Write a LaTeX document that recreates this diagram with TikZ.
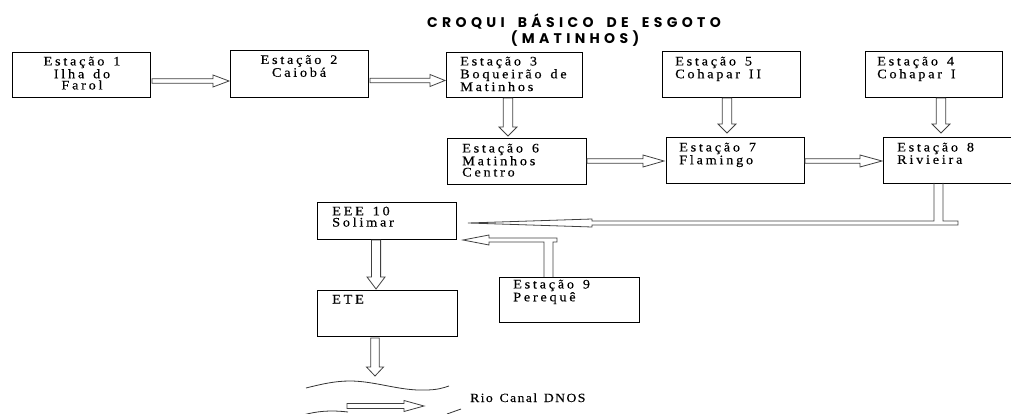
\documentclass[tikz,border=0pt]{standalone}
\usepackage{fontspec}
\setmainfont{Liberation Serif}
\newfontfamily\boxfont[LetterSpace=21, FakeStretch=1.1, WordSpace=1.4, FakeBold=0.4]{Liberation Serif}
\newfontfamily\rivfont[LetterSpace=11, FakeStretch=1.1, WordSpace=1.4, FakeBold=0.3]{Liberation Serif}
\newfontfamily\titlefont[LetterSpace=31, WordSpace=1.8]{Poppins}
\usetikzlibrary{calc}
\tikzset{
  box/.style={draw=black, line width=0.9pt, outer sep=0pt, inner sep=0pt},
  lbl/.style={font=\boxfont\fontsize{13}{11.2}\selectfont, align=left, inner sep=0pt, anchor=north west},
  ttl/.style={font=\titlefont\bfseries\fontsize{14}{14}\selectfont, inner sep=0pt, anchor=base},
  arr/.style={draw=black!75, line width=0.8pt, line join=miter},
  rio/.style={draw=black!80, line width=0.8pt},
}
% rightwards hollow arrow: start, end, head length, head half width, shaft half width
\newcommand{\harr}[5]{%
  \draw[arr] let \p1=#1, \p2=#2 in
    (\x1,\y1+#5pt) -- (\x2-#3pt,\y1+#5pt) -- (\x2-#3pt,\y1+#4pt) -- (\x2,\y1)
    -- (\x2-#3pt,\y1-#4pt) -- (\x2-#3pt,\y1-#5pt) -- (\x1,\y1-#5pt) -- cycle;}
% downwards hollow arrow: start, end (tip level), head length, head half width, shaft half width
\newcommand{\varr}[5]{%
  \draw[arr] let \p1=#1, \p2=#2 in
    (\x1-#5pt,\y1) -- (\x1-#5pt,\y2+#3pt) -- (\x1-#4pt,\y2+#3pt) -- (\x1,\y2)
    -- (\x1+#4pt,\y2+#3pt) -- (\x1+#5pt,\y2+#3pt) -- (\x1+#5pt,\y1) -- cycle;}
\begin{document}
\begin{tikzpicture}[x=1pt, y=-1pt]
\useasboundingbox (0,0) rectangle (1011,414);
\clip (0,0) rectangle (1011,414);

% title
\node[ttl] (t1) at (574,27.5) {CROQUI BÁSICO DE ESGOTO};
\node[ttl] (t2) at (575,43.5) {(MATINHOS)};

% boxes
\node[box, minimum width=138pt, minimum height=45pt] (b1) at (81,74.5) {};
\node[box, minimum width=138pt, minimum height=47pt] (b2) at (299,73.5) {};
\node[box, minimum width=136pt, minimum height=45pt] (b3) at (514,74.5) {};
\node[box, minimum width=138pt, minimum height=46pt] (b5) at (731,74) {};
\node[box, minimum width=137pt, minimum height=46pt] (b4) at (933.5,74) {};
\node[box, minimum width=139pt, minimum height=46pt] (b6) at (516.5,161) {};
\node[box, minimum width=138pt, minimum height=46pt] (b7) at (735,160) {};
\node[box, minimum width=132pt, minimum height=46pt] (b8) at (949,160) {};
\node[box, minimum width=139pt, minimum height=37pt] (b10) at (386.5,220.5) {};
\node[box, minimum width=140pt, minimum height=46pt] (ete) at (387,313) {};
\node[box, minimum width=140pt, minimum height=45pt] (b9) at (569,299.5) {};

% labels
\node[lbl, align=center, anchor=north] (l1) at (82,56.5) {Estação 1\\Ilha do\\Farol};
\node[lbl, align=center, anchor=north] (l2) at (299,55) {Estação 2\\Caiobá};
\node[lbl] (l3) at (460,56.5) {Estação 3\\Boqueirão de\\Matinhos};
\node[lbl] (l5) at (675,56.5) {Estação 5\\Cohapar II};
\node[lbl] (l4) at (877,56.5) {Estação 4\\Cohapar I};
\node[lbl] (l6) at (462,143.5) {Estação 6\\Matinhos\\Centro};
\node[lbl] (l7) at (679,142.5) {Estação 7\\Flamingo};
\node[lbl] (l8) at (897,142.5) {Estação 8\\Rivieira};
\node[lbl] (l10) at (332,206.5) {EEE 10\\Solimar};
\node[lbl] (lete) at (332,294.8) {ETE};
\node[lbl] (l9) at (513,279.5) {Estação 9\\Perequê};

% horizontal arrows
\harr{($(b1.east)+(2,6.5)$)}{($(b2.west)+(-1,0)$)}{16}{6}{2.2}
\harr{($(b2.east)+(2,7)$)}{($(b3.west)+(-1,0)$)}{15}{6}{2.2}
\harr{($(b6.east)+(1,0)$)}{($(b7.west)+(-2,0)$)}{21}{6}{2.2}
\harr{($(b7.east)+(1,1)$)}{($(b8.west)+(-1,0)$)}{22}{6}{2.2}

% vertical arrows
\varr{($(b3.south)+(-6,1)$)}{($(b6.north)+(0,-2)$)}{9}{9}{4.8}
\varr{($(b5.south)+(-4,1)$)}{($(b7.north)+(0,-4)$)}{9}{9}{4.8}
\varr{($(b4.south)+(7.5,1)$)}{($(b8.north)+(0,-4)$)}{9}{9}{4.8}
\varr{($(b10.south)+(-10.5,1)$)}{($(ete.north)+(0,-1)$)}{12}{9}{4.6}
\varr{($(ete.south)+(-12,2)$)}{($(ete.south)+(0,40)$)}{9}{8.5}{4.2}

% connector from Estacao 8 to EEE 10
\draw[arr] let \p1=(b8.south), \p2=($(b10.east)+(12,2.5)$) in
  (\x1-15pt,\y1) -- (\x1-15pt,\y2+2pt) -- (\x2+124pt,\y2+2pt) -- (\x2+124pt,\y2+4pt)
  -- (\x2,\y2) -- (\x2+124pt,\y2-4pt) -- (\x2+124pt,\y2-2pt) -- (\x1+9pt,\y2-2pt)
  -- (\x1+9pt,\y2+2pt) -- (\x1-6pt,\y2+2pt) -- (\x1-6pt,\y1);

% connector from Estacao 9 to EEE 10
\draw[arr] let \p1=(b9.north), \p2=($(b10.south east)+(7,1)$) in
  (\x1-25pt,\y1) -- (\x1-25pt,\y2-2pt) -- (\x2+26pt,\y2-2pt) -- (\x2+26pt,\y2-5pt)
  -- (\x2,\y2) -- (\x2+26pt,\y2+5pt) -- (\x2+26pt,\y2+2pt) -- (\x1-12pt,\y2+2pt)
  -- (\x1-12pt,\y2-2pt) -- (\x1-16pt,\y2-2pt) -- (\x1-16pt,\y1);

% river
\draw[rio] (306,388) .. controls (322,384) and (335,381) .. (350,381)
  .. controls (375,381) and (400,391) .. (425,390) .. controls (437,390) and (443,388) .. (449,386);
\draw[rio] (303,415) .. controls (318,411) and (330,410) .. (348,412);
\draw[rio] (447,414) -- (461,409);
\coordinate (f1) at (347,406);
\coordinate (f2) at (424,406);
\harr{(f1)}{(f2)}{20}{5.5}{2.5}
\node[font=\rivfont\fontsize{12.5}{12}\selectfont, anchor=base west, inner sep=0pt] (rio) at (470,402) {Rio Canal DNOS};
\end{tikzpicture}
\end{document}
